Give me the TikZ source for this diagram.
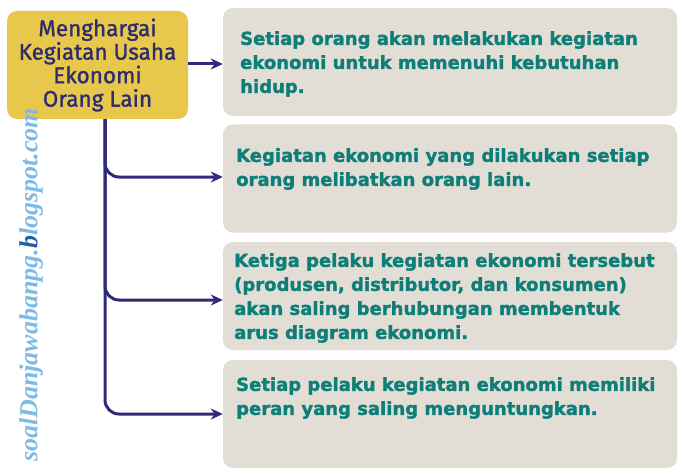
\documentclass[tikz,border=0pt]{standalone}
\usepackage{fontspec}
\newfontfamily\bodyfont[FakeBold=1.6]{DejaVuSans-Bold.ttf}
\newfontfamily\titlefont[FakeBold=1.2]{Fira Sans}
\newfontfamily\wmfont{Liberation Serif Bold Italic}
\usetikzlibrary{arrows.meta}
\definecolor{navy}{HTML}{2E2B78}
\definecolor{titlecol}{HTML}{2E2B6E}
\definecolor{mainfill}{HTML}{E8C84C}
\definecolor{boxfill}{HTML}{E3DED5}
\definecolor{teal}{HTML}{0E7E78}
\definecolor{wmblue}{HTML}{7DBBE6}
\definecolor{wmdark}{HTML}{1F5FA8}
\tikzset{
  mainbox/.style={fill=mainfill, rounded corners=10pt, minimum width=181pt, minimum height=108pt, inner sep=0pt,
    align=center, text=titlecol, font=\titlefont\fontsize{22.5}{23.5}\selectfont},
  graybox/.style={fill=boxfill, rounded corners=10pt, minimum width=454pt, minimum height=108pt, inner sep=0pt},
  boxtext/.style={anchor=north west, inner sep=0pt, align=left, text=teal, font=\bodyfont\fontsize{18}{24}\selectfont},
  conn/.style={draw=navy, line width=3pt, rounded corners=14pt, -{Stealth[length=12pt,width=11pt]}}
}
\begin{document}
\begin{tikzpicture}[x=1pt,y=-1pt]
\useasboundingbox (0,0) rectangle (685,476);
\fill[white] (0,0) rectangle (685,476);
\node[mainbox] (main) at (97.5,65) {Menghargai\\Kegiatan Usaha\\Ekonomi\\Orang Lain};
\node[graybox] (b1) at (450,62) {};
\node[graybox] (b2) at (450,178.5) {};
\node[graybox] (b3) at (450,296) {};
\node[graybox] (b4) at (450,414) {};
\node[boxtext] (t1) at (240,31) {Setiap orang akan melakukan kegiatan\\ekonomi untuk memenuhi kebutuhan\\hidup.};
\node[boxtext] (t2) at (236,148) {Kegiatan ekonomi yang dilakukan setiap\\orang melibatkan orang lain.};
\node[boxtext] (t3) at (234,253) {Ketiga pelaku kegiatan ekonomi tersebut\\(produsen, distributor, dan konsumen)\\akan saling berhubungan membentuk\\arus diagram ekonomi.};
\node[boxtext] (t4) at (236,377) {Setiap pelaku kegiatan ekonomi memiliki\\peran yang saling menguntungkan.};
\coordinate (trunk) at ([xshift=7.5pt]main.south);
\draw[conn] ([yshift=1pt]main.east) -- ([yshift=1pt]main.east -| b1.west);
\draw[conn] (trunk) |- ([yshift=1.5pt]b2.west);
\draw[conn] (trunk) |- ([yshift=-4pt]b3.west);
\draw[conn] (trunk) |- (b4.west);
\node[rotate=90, anchor=west, inner sep=0pt, text=wmblue, font=\wmfont\fontsize{26}{26}\selectfont] (wm) at (31,462) {soalDanjawabanpg.\textcolor{wmdark}{b}logspot.com};
\end{tikzpicture}
\end{document}
